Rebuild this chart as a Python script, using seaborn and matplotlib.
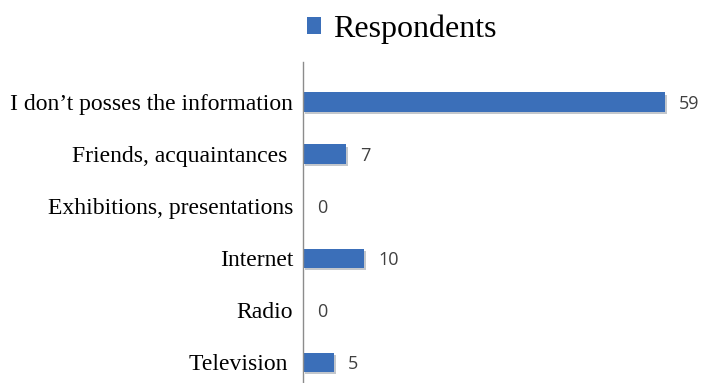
import matplotlib
matplotlib.use("Agg")
import matplotlib.pyplot as plt
import matplotlib.patheffects as pe
import seaborn as sns
import pandas as pd

categories = [
    "I don\u2019t posses the information",
    "Friends, acquaintances ",
    "Exhibitions, presentations",
    "Internet",
    "Radio",
    "Television ",
]
respondents = [59, 7, 0, 10, 0, 5]
series_name = "Respondents"

df = pd.DataFrame({"source": categories, "count": respondents})

sns.set_theme(style="white")
plt.rcParams["font.family"] = ["Liberation Serif", "DejaVu Serif"]
plt.rcParams["text.color"] = "black"

W, H = 704, 383
fig = plt.figure(figsize=(W / 100, H / 100), dpi=100)
ax = fig.add_axes([303 / W, 0, 1 - 303 / W, 1 - 62 / H])

bar_color = "#3b6fb9"
sns.barplot(data=df, x="count", y="source", color=bar_color, width=0.37,
            orient="h", ax=ax, saturation=1)

for p in ax.patches:
    p.set_edgecolor("none")
    p.set_path_effects([pe.SimplePatchShadow(offset=(1.5, -1.5), alpha=0.25),
                        pe.Normal()])

ax.set_xlim(0, (W - 303) / ((665 - 303) / 59))
ax.set_ylim(5.4, -0.77)

for i, v in enumerate(respondents):
    ax.annotate(str(v), xy=(v, i), xytext=(14, -2), textcoords="offset pixels",
                va="center", ha="left", fontsize=13, color="#404040",
                family=["Open Sans", "DejaVu Sans"], annotation_clip=False)

ax.set_xlabel("")
ax.set_ylabel("")
ax.set_xticks([])
ax.tick_params(axis="y", length=0, pad=7, labelsize=17, colors="#000000")
for s in ["top", "right", "bottom"]:
    ax.spines[s].set_visible(False)
ax.spines["left"].set_color("#8c8c8c")
ax.spines["left"].set_linewidth(1.0)

handle = plt.Rectangle((0, 0), 1, 1, facecolor=bar_color, edgecolor="none")
leg = fig.legend(handles=[handle], labels=[series_name],
                 loc="center", bbox_to_anchor=(402 / W, 1 - 29 / H),
                 frameon=False, fontsize=23, handlelength=0.42,
                 handleheight=0.42, handletextpad=0.4)
for t in leg.get_texts():
    t.set_color("black")

fig.savefig("out.png", dpi=100, facecolor="white")
